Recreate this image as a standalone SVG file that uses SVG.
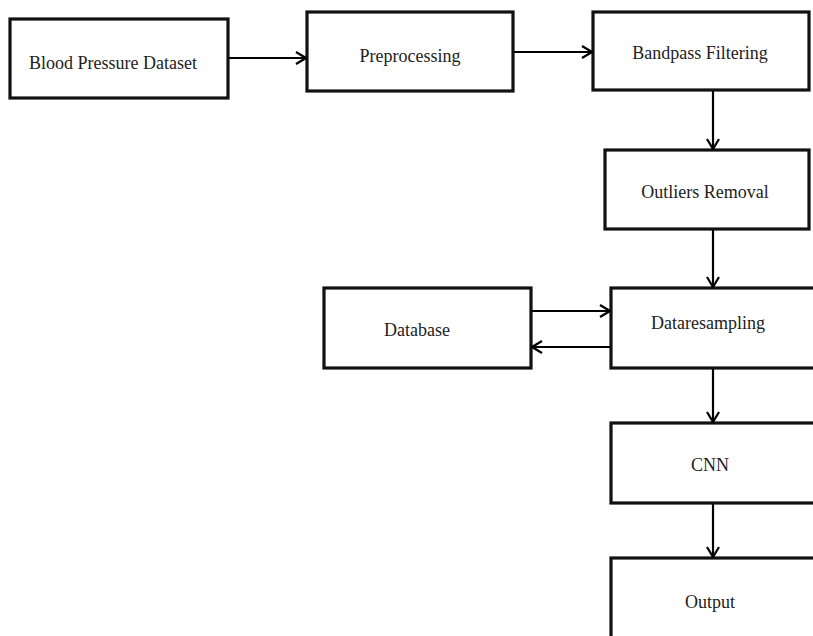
<svg xmlns="http://www.w3.org/2000/svg" width="813" height="636" viewBox="0 0 813 636">
<defs>
<marker id="arr" viewBox="0 0 12 14" refX="11" refY="7" markerWidth="12" markerHeight="14" markerUnits="userSpaceOnUse" orient="auto">
<path d="M1,1 L11,7 L1,13" fill="none" stroke="#000" stroke-width="2.2"/>
</marker>
<style>
.box{fill:#fff;stroke:#111;stroke-width:3.2}
.lbl{font-family:"Liberation Serif","Times New Roman",serif;font-size:18px;fill:#222;text-anchor:middle}
.con{stroke:#000;stroke-width:2.2;fill:none;marker-end:url(#arr)}
</style>
</defs>
<rect width="813" height="636" fill="#fff"/>
<g id="n1"><rect class="box" x="10" y="19" width="218" height="79"/><text class="lbl" x="113" y="69">Blood Pressure Dataset</text></g>
<g id="n2"><rect class="box" x="307" y="12" width="206" height="79"/><text class="lbl" x="410" y="62">Preprocessing</text></g>
<g id="n3"><rect class="box" x="593" y="12" width="216" height="78"/><text class="lbl" x="700" y="59">Bandpass Filtering</text></g>
<g id="n4"><rect class="box" x="605" y="150" width="204" height="79"/><text class="lbl" x="705" y="198">Outliers Removal</text></g>
<g id="n5"><rect class="box" x="324" y="288" width="207" height="80"/><text class="lbl" x="417" y="336">Database</text></g>
<g id="n6"><rect class="box" x="611" y="288" width="220" height="80"/><text class="lbl" x="708" y="329">Dataresampling</text></g>
<g id="n7"><rect class="box" x="611" y="423" width="220" height="80"/><text class="lbl" x="710" y="471">CNN</text></g>
<g id="n8"><rect class="box" x="611" y="558" width="220" height="100"/><text class="lbl" x="710" y="608">Output</text></g>
<g id="connectors">
<line class="con" x1="229" y1="58" x2="306" y2="58"/>
<line class="con" x1="514" y1="52" x2="592" y2="52"/>
<line class="con" x1="713" y1="91" x2="713" y2="149"/>
<line class="con" x1="713" y1="230" x2="713" y2="287"/>
<line class="con" x1="532" y1="311" x2="610" y2="311"/>
<line class="con" x1="610" y1="347" x2="532" y2="347"/>
<line class="con" x1="713" y1="369" x2="713" y2="422"/>
<line class="con" x1="713" y1="504" x2="713" y2="557"/>
</g>
</svg>
